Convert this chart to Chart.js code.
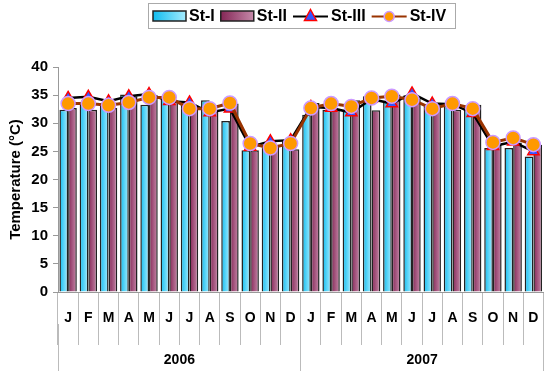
<!DOCTYPE html>
<html>
<head>
<meta charset="utf-8">
<script src="https://cdn.jsdelivr.net/npm/chart.js@4/dist/chart.umd.min.js"></script>
<style>
  body { margin: 0; background: #fff; }
  #wrap { width: 552px; height: 371px; position: relative; }
</style>
</head>
<body>
<div id="wrap"><canvas id="myChart"></canvas></div>
<script>
'use strict';
const months = ['J', 'F', 'M', 'A', 'M', 'J', 'J', 'A', 'S', 'O', 'N', 'D'];
const years = ['2006', '2007'];
const yTicks = [0, 5, 10, 15, 20, 25, 30, 35, 40];
const st1 = [32.4, 33.3, 33.2, 35.1, 33.3, 34.6, 33.5, 34.1, 30.4, 25.2, 25.9, 26.8,
             31.5, 32.4, 32.4, 34.8, 34.0, 35.0, 33.3, 33.3, 32.6, 25.6, 25.6, 24.1];
const st2 = [32.7, 32.4, 32.7, 34.8, 35.0, 34.0, 32.5, 32.4, 33.5, 25.2, 26.2, 25.4,
             33.6, 32.6, 34.1, 32.3, 35.1, 34.3, 33.2, 32.4, 33.3, 26.2, 26.6, 26.2];
const st3 = [34.5, 34.7, 33.9, 34.8, 35.2, 33.9, 33.7, 31.9, 32.6, 25.8, 26.8, 27.0,
             32.9, 32.7, 31.9, 34.3, 33.5, 35.3, 33.5, 33.4, 31.8, 25.9, 26.7, 25.0];
const st4 = [33.5, 33.5, 33.2, 33.7, 34.6, 34.6, 32.6, 32.6, 33.6, 26.4, 25.6, 26.4,
             32.7, 33.5, 33.0, 34.5, 34.8, 34.2, 32.6, 33.5, 32.6, 26.6, 27.4, 26.2];

const labels = years.flatMap(() => months);
const CAT_PCT = 0.86;
const FONT = '"Liberation Sans", Arial, sans-serif';
const cyan = ['#0fbcef', '#a6ecff'];
const plum = ['#842656', '#c68aaa'];

Chart.defaults.font.family = FONT;
Chart.defaults.font.weight = 'bold';
Chart.defaults.color = '#000';

// horizontal gradient across each bar
function barFill(c, stops) {
  const xs = c.chart.scales.x;
  if (!xs || c.dataIndex === undefined) return stops[0];
  const slot = xs.width / labels.length * CAT_PCT / 2;
  const mid = xs.getPixelForValue(c.dataIndex) + (c.datasetIndex === 0 ? -slot / 2 : slot / 2);
  if (!isFinite(mid) || !isFinite(slot) || slot <= 0) return stops[0];
  const g = c.chart.ctx.createLinearGradient(mid - slot / 2, 0, mid + slot / 2, 0);
  g.addColorStop(0, stops[0]);
  g.addColorStop(1, stops[1]);
  return g;
}

const boxLegend = {
  id: 'boxLegend',
  afterDraw(chart) {
    const c = chart.ctx;
    c.save();
    c.strokeStyle = '#aaa';
    c.lineWidth = 1;
    c.strokeRect(148.5, 3.5, 307, 25);
    c.font = 'bold 16px ' + FONT;
    c.textBaseline = 'middle';
    c.fillStyle = '#000';
    const y = 16.5;
    let x = 153;
    const items = [
      { text: 'St-I', kind: 'bar', stops: cyan },
      { text: 'St-II', kind: 'bar', stops: plum },
      { text: 'St-III', kind: 'tri' },
      { text: 'St-IV', kind: 'dot' },
    ];
    items.forEach(it => {
      if (it.kind === 'bar') {
        const g = c.createLinearGradient(x, 0, x + 33, 0);
        g.addColorStop(0, it.stops[0]);
        g.addColorStop(1, it.stops[1]);
        c.fillStyle = g;
        c.fillRect(x, 11, 33, 10);
        c.strokeStyle = '#222';
        c.lineWidth = 1.5;
        c.strokeRect(x, 11, 33, 10);
        x += 33;
      } else {
        c.beginPath();
        c.moveTo(x, y);
        c.lineTo(x + 35, y);
        c.strokeStyle = it.kind === 'tri' ? '#000' : '#993300';
        c.lineWidth = 2;
        c.stroke();
        const cx = x + 17.5;
        c.beginPath();
        if (it.kind === 'tri') {
          c.moveTo(cx, y - 7);
          c.lineTo(cx + 6, y + 4);
          c.lineTo(cx - 6, y + 4);
          c.closePath();
          c.fillStyle = '#3355ff';
          c.strokeStyle = '#ff0000';
        } else {
          c.arc(cx, y, 5, 0, Math.PI * 2);
          c.fillStyle = '#ff9900';
          c.strokeStyle = '#cc99ff';
        }
        c.fill();
        c.lineWidth = 1.5;
        c.stroke();
        x += 35;
      }
      x += 3;
      c.fillStyle = '#000';
      c.fillText(it.text, x, y);
      x += c.measureText(it.text).width + 6;
    });
    c.restore();
  }
};

const ctx = document.getElementById('myChart');
const myChart = new Chart(ctx, {
  data: {
    labels: labels,
    datasets: [
      {
        type: 'bar',
        label: 'St-I',
        data: st1,
        xAxisID: 'x',
        order: 2,
        backgroundColor: c => barFill(c, cyan),
        borderColor: '#222',
        borderWidth: 1.5,
        categoryPercentage: CAT_PCT,
        barPercentage: 1,
      },
      {
        type: 'bar',
        label: 'St-II',
        data: st2,
        xAxisID: 'x',
        order: 2,
        backgroundColor: c => barFill(c, plum),
        borderColor: '#222',
        borderWidth: 1.5,
        categoryPercentage: CAT_PCT,
        barPercentage: 1,
      },
      {
        type: 'line',
        label: 'St-III',
        data: st3,
        xAxisID: 'x',
        order: 1,
        borderColor: '#000',
        borderWidth: 2.5,
        tension: 0,
        pointStyle: 'triangle',
        pointRadius: 6.5,
        pointBackgroundColor: '#3355ff',
        pointBorderColor: '#ff0000',
        pointBorderWidth: 1.5,
      },
      {
        type: 'line',
        label: 'St-IV',
        data: st4,
        xAxisID: 'x',
        order: 0,
        borderColor: '#993300',
        borderWidth: 3,
        tension: 0,
        pointStyle: 'circle',
        pointRadius: 7,
        pointBackgroundColor: '#ff9900',
        pointBorderColor: '#cc99ff',
        pointBorderWidth: 1.5,
      },
    ],
  },
  options: {
    responsive: true,
    maintainAspectRatio: false,
    animation: false,
    events: [],
    layout: { padding: { top: 67, right: 7, bottom: 0, left: 0 } },
    plugins: {
      legend: { display: false },
      tooltip: { enabled: false },
    },
    scales: {
      x: {
        type: 'category',
        position: 'bottom',
        weight: 0,
        offset: true,
        grid: { offset: true, drawOnChartArea: false, tickLength: 53, color: '#bbb' },
        border: { display: true, color: '#999' },
        ticks: { padding: -35, maxRotation: 0, autoSkip: false, font: { size: 14, weight: 'bold' } },
        afterFit: s => { s.height = 32; },
      },
      year: {
        type: 'category',
        axis: 'x',
        position: 'bottom',
        weight: 1,
        labels: years,
        offset: true,
        grid: { offset: true, drawOnChartArea: false, tickLength: 47, color: '#bbb' },
        border: { display: false },
        ticks: { padding: -19, maxRotation: 0, font: { size: 14, weight: 'bold' } },
        afterFit: s => { s.height = 47; },
      },
      y: {
        min: 0,
        max: 40,
        afterBuildTicks: s => { s.ticks = yTicks.map(v => ({ value: v })); },
        grid: { drawOnChartArea: false, tickLength: 5, color: '#999' },
        border: { display: true, color: '#999' },
        ticks: { padding: 5, font: { size: 15, weight: 'bold' } },
        title: {
          display: true,
          text: 'Temperature (°C)',
          font: { size: 15, weight: 'bold' },
          padding: { top: 7, bottom: 0 },
        },
        afterFit: s => { s.width = 58; },
      },
    },
  },
  plugins: [boxLegend],
});
</script>
</body>
</html>
